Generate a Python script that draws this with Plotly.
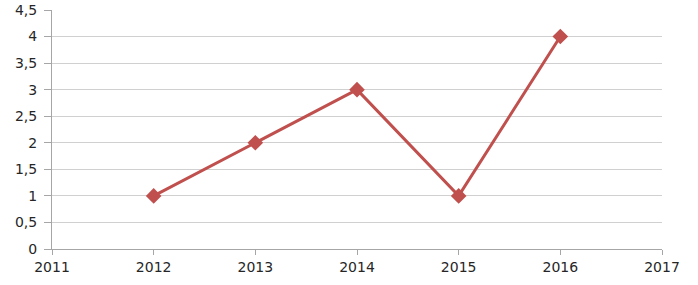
import plotly.graph_objects as go

years = [2012, 2013, 2014, 2015, 2016]
values = [1, 2, 3, 1, 4]
x_ticks = [2011, 2012, 2013, 2014, 2015, 2016, 2017]
y_ticks = [0, 0.5, 1, 1.5, 2, 2.5, 3, 3.5, 4, 4.5]
y_labels = ["0", "0,5", "1", "1,5", "2", "2,5", "3", "3,5", "4", "4,5"]

fig = go.Figure()
fig.add_trace(go.Scatter(
    x=years, y=values, mode="lines+markers",
    line=dict(color="#C0504D", width=3),
    marker=dict(symbol="diamond", size=12, color="#C0504D"),
    showlegend=False,
))

font = dict(family="DejaVu Sans", size=14, color="#262626")
fig.update_layout(
    width=698, height=285,
    margin=dict(l=52, r=36, t=10, b=36, autoexpand=False),
    paper_bgcolor="white", plot_bgcolor="white",
    font=font,
    xaxis=dict(
        range=[2011, 2017], tickvals=x_ticks, ticktext=[str(v) for v in x_ticks],
        showgrid=False, zeroline=False, automargin=False,
        showline=True, linecolor="#a6a6a6", linewidth=1,
        ticks="outside", ticklen=5, tickcolor="#a6a6a6",
        tickfont=font,
    ),
    yaxis=dict(
        range=[0, 4.5], tickvals=y_ticks, ticktext=y_labels,
        showgrid=True, gridcolor="#d0d0d0", gridwidth=1, zeroline=False,
        automargin=False,
        showline=True, linecolor="#a6a6a6", linewidth=1,
        ticks="outside", ticklen=7, tickcolor="#a6a6a6",
        ticklabelstandoff=4,
        tickfont=font,
    ),
)

fig.write_html("out.html")
